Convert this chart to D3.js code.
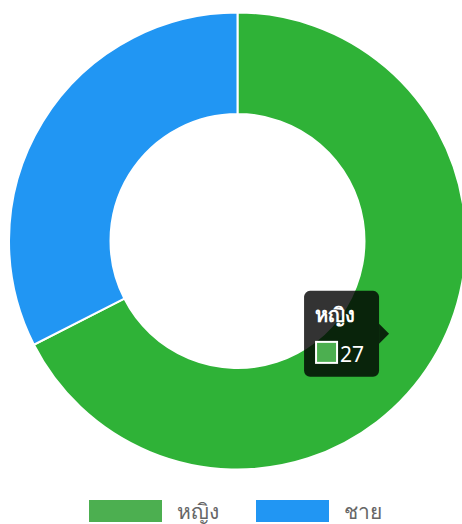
<!DOCTYPE html>
<html>
<head>
<meta charset="utf-8">
<script src="https://cdn.jsdelivr.net/npm/d3@7"></script>
<style>
  body { margin: 0; background: #fff; }
  text { font-family: "Noto Sans", "DejaVu Sans", sans-serif; }
</style>
</head>
<body>
<div id="chart"></div>
<script>
// data
var labels = ["หญิง", "ชาย"];
var values = [27, 13];
var sliceColors = ["#2fb237", "#2196f3"];
var legendColors = ["#4caf50", "#2196f3"];
var hovered = 0;

var width = 462, height = 524;
var cx = 237.5, cy = 241, outerR = 228.5, innerR = 127;

var svg = d3.select("#chart")
  .append("svg")
    .attr("width", width)
    .attr("height", height);

var g = svg.append("g")
    .attr("transform", "translate(" + cx + "," + cy + ")");

var pie = d3.pie().sort(null).value(function(d) { return d; });
var arc = d3.arc().innerRadius(innerR).outerRadius(outerR);
var arcs = pie(values);

g.selectAll("path")
  .data(arcs)
  .enter().append("path")
    .attr("d", arc)
    .attr("fill", function(d, i) { return sliceColors[i]; })
    .attr("stroke", "#fff")
    .attr("stroke-width", 2);

// legend
var legend = svg.append("g");
var legendX = [89, 256];
labels.forEach(function(l, i) {
  legend.append("rect")
    .attr("x", legendX[i])
    .attr("y", 500)
    .attr("width", 73)
    .attr("height", 22)
    .attr("fill", legendColors[i]);
  legend.append("text")
    .attr("x", legendX[i] + 88)
    .attr("y", 519)
    .attr("fill", "#666")
    .attr("font-size", 21)
    .text(l);
});

// tooltip anchored at the hovered arc centroid
var a = arcs[hovered];
var mid = (a.startAngle + a.endAngle) / 2, midR = (innerR + outerR) / 2;
var tipX = cx + midR * Math.sin(mid), tipY = cy - midR * Math.cos(mid);
var boxW = 75, boxH = 86, caret = 10;
var bx = tipX - caret - boxW, by = tipY - boxH / 2;

var tip = svg.append("g");
tip.append("rect")
  .attr("x", bx).attr("y", by)
  .attr("width", boxW).attr("height", boxH)
  .attr("rx", 6)
  .attr("fill", "rgba(0,0,0,0.8)");
tip.append("path")
  .attr("d", "M" + (tipX - caret) + "," + (tipY - caret) + "L" + tipX + "," + tipY + "L" + (tipX - caret) + "," + (tipY + caret) + "Z")
  .attr("fill", "rgba(0,0,0,0.8)");
tip.append("text")
  .attr("x", bx + 11).attr("y", by + 31)
  .attr("fill", "#fff")
  .attr("font-size", 20)
  .attr("font-weight", "bold")
  .text(labels[hovered]);
tip.append("rect")
  .attr("x", bx + 12).attr("y", by + 51)
  .attr("width", 21).attr("height", 21)
  .attr("fill", legendColors[hovered])
  .attr("stroke", "#fff")
  .attr("stroke-width", 2);
tip.append("text")
  .attr("x", bx + 36).attr("y", by + 71)
  .attr("fill", "#fff")
  .attr("font-size", 21)
  .text(values[hovered]);
</script>
</body>
</html>
